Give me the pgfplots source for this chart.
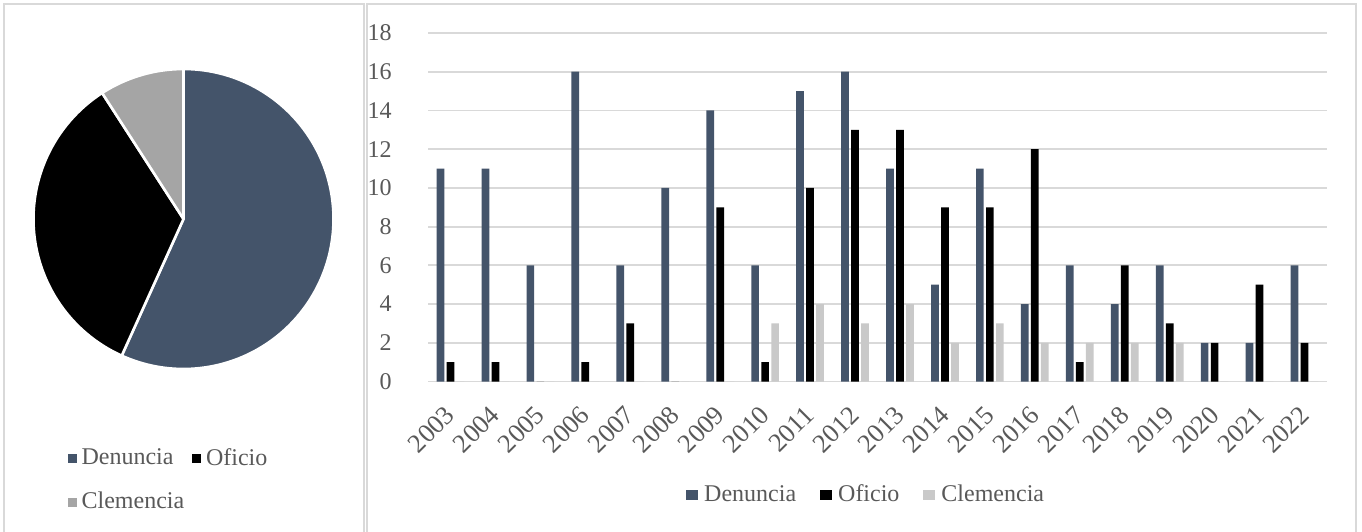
\documentclass[border=0pt]{standalone}
\usepackage{pgfplots}
\usepackage{pgfplotstable}
\pgfplotsset{compat=1.18}
\usepackage{fontspec}
\setmainfont{Liberation Serif}
\definecolor{den}{HTML}{44546A}
\definecolor{clembar}{HTML}{C9C9C9}
\definecolor{clempie}{HTML}{A5A5A5}
\definecolor{gridc}{HTML}{D9D9D9}
\definecolor{txt}{HTML}{595959}

\pgfplotstableread{
x den ofi clem
0 11 1 0
1 11 1 0
2 6 0 0
3 16 1 0
4 6 3 0
5 10 0 0
6 14 9 0
7 6 1 3
8 15 10 4
9 16 13 3
10 11 13 4
11 5 9 2
12 11 9 3
13 4 12 2
14 6 1 2
15 4 6 2
16 6 3 2
17 2 2 0
18 2 5 0
19 6 2 0
}\bardata

% pie totals
\def\vDen{168}
\def\vOfi{101}
\def\vCle{27}

\begin{document}
\begin{tikzpicture}
\useasboundingbox (0,0) rectangle (681pt,265.5pt);
\fill[white] (0,0) rectangle (681pt,265.5pt);
% panel frames
\draw[gridc, line width=1pt] (2pt,-2pt) -- (2pt,263.5pt) -- (182pt,263.5pt) -- (182pt,-2pt);
\draw[gridc, line width=1pt] (183.5pt,-2pt) -- (183.5pt,263.5pt) -- (678pt,263.5pt) -- (678pt,-2pt);

% ---------- bar chart ----------
\begin{axis}[
  at={(214pt,74.75pt)}, anchor=south west,
  scale only axis, width=449.5pt, height=174.25pt,
  ymin=0, ymax=18, ytick={0,2,...,18},
  xmin=-0.5, xmax=19.5,
  xtick={0,...,19},
  xticklabels={2003,2004,2005,2006,2007,2008,2009,2010,2011,2012,2013,2014,2015,2016,2017,2018,2019,2020,2021,2022},
  ybar=1.15pt, bar width=3.85pt,
  axis line style={draw=none},
  major tick length=0pt,
  ymajorgrids, grid style={gridc, line width=0.9pt},
  /pgf/number format/assume math mode=true,
  tick label style={font=\fontsize{12}{12}\selectfont, text=txt, inner sep=0pt},
  yticklabel style={anchor=east, xshift=-18pt},
  xticklabel style={font=\fontsize{13.2}{13}\selectfont, xshift=0pt, yshift=-14.5pt, rotate=45, anchor=east},
  legend columns=-1,
  legend cell align=left,
  legend style={draw=none, fill=none, at={(0.4885,-0.3257)}, anchor=center,
    font=\fontsize{12}{12}\selectfont, text=txt,
    /tikz/every odd column/.append style={column sep=1pt},
    /tikz/every even column/.append style={column sep=10pt}},
]
\addplot[fill=den, draw=none, legend image code/.code={\fill[den] (0pt,-2.3pt) rectangle (6pt,2.3pt);}] table[x=x,y=den]{\bardata};
\addlegendentry{Denuncia}
\addplot[fill=black, draw=none, legend image code/.code={\fill[black] (0pt,-2.3pt) rectangle (6pt,2.3pt);}] table[x=x,y=ofi]{\bardata};
\addlegendentry{Oficio}
\addplot[fill=clembar, draw=none, legend image code/.code={\fill[clembar] (0pt,-2.3pt) rectangle (6pt,2.3pt);}] table[x=x,y=clem]{\bardata};
\addlegendentry{Clemencia}
\end{axis}

% ---------- pie chart ----------
\begin{axis}[
  at={(16.75pt,81pt)}, anchor=south west,
  scale only axis, width=150pt, height=150pt,
  xmin=-1, xmax=1, ymin=-1, ymax=1,
  hide axis, clip=false,
  legend columns=2,
  legend cell align=left,
  legend style={draw=none, fill=none, at={(0.093,-0.236)}, anchor=north west,
    font=\fontsize{12}{12}\selectfont, text=txt,
    /tikz/every odd column/.append style={column sep=0.5pt},
    /tikz/every even column/.append style={column sep=2pt},
    row sep=8pt},
]
\pgfmathsetmacro{\tot}{\vDen+\vOfi+\vCle}
\pgfmathsetmacro{\aA}{90-360*(\vDen/\tot)}
\pgfmathsetmacro{\aB}{\aA-360*(\vOfi/\tot)}
\pgfmathsetmacro{\aC}{\aB-360*(\vCle/\tot)}
\fill[den, draw=white, line width=1.3pt, line join=round] (axis cs:0,0) -- ++(90:75pt) arc[start angle=90, end angle=\aA, radius=75pt] -- cycle;
\fill[black, draw=white, line width=1.3pt, line join=round] (axis cs:0,0) -- ++(\aA:75pt) arc[start angle=\aA, end angle=\aB, radius=75pt] -- cycle;
\fill[clempie, draw=white, line width=1.3pt, line join=round] (axis cs:0,0) -- ++(\aB:75pt) arc[start angle=\aB, end angle=\aC, radius=75pt] -- cycle;
\addlegendimage{legend image code/.code={\fill[den] (0pt,-2pt) rectangle (4pt,2pt);}}
\addlegendentry{Denuncia}
\addlegendimage{legend image code/.code={\fill[black] (0pt,-2pt) rectangle (4pt,2pt);}}
\addlegendentry{Oficio}
\addlegendimage{legend image code/.code={\fill[clempie] (0pt,-2pt) rectangle (4pt,2pt);}}
\addlegendentry{Clemencia}
\end{axis}
\end{tikzpicture}
\end{document}
